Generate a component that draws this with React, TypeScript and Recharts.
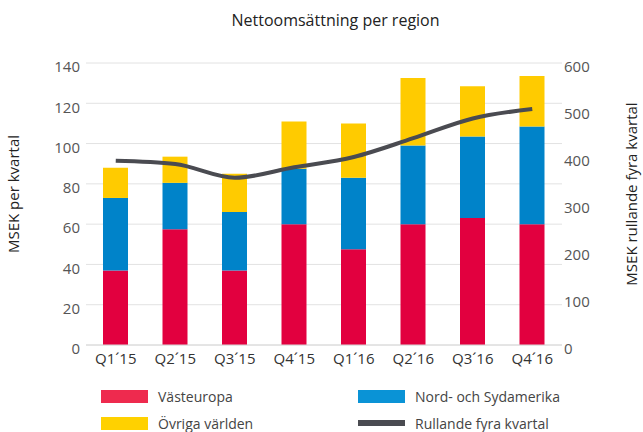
import React from "react";
import {
    ComposedChart,
    Bar,
    Line,
    XAxis,
    YAxis,
    CartesianGrid,
} from "recharts";

// kvartal och värden
const quarters = ["Q1´15", "Q2´15", "Q3´15", "Q4´15", "Q1´16", "Q2´16", "Q3´16", "Q4´16"];
const vasteuropa = [37, 57.5, 37, 60, 47.5, 60, 63, 60];
const amerika = [36, 23, 29, 27.5, 35.5, 39, 40.5, 48.5];
const ovriga = [15, 13, 19, 23.5, 27, 33.5, 25, 25];
const rullande = [392, 385, 356, 378, 400, 440, 482, 502];

const leftTicks = [0, 20, 40, 60, 80, 100, 120, 140];
const rightTicks = [0, 100, 200, 300, 400, 500, 600];

const data = quarters.map((q, i) => ({
    quarter: q,
    vasteuropa: vasteuropa[i],
    amerika: amerika[i],
    ovriga: ovriga[i],
    rullande: rullande[i],
}));

const legendItems = [
    { name: "Västeuropa", color: "#EE2A4E", line: false },
    { name: "Nord- och Sydamerika", color: "#0A93D6", line: false },
    { name: "Övriga världen", color: "#FFD100", line: false },
    { name: "Rullande fyra kvartal", color: "#4A4B51", line: true },
];

const FONT = "'Open Sans', sans-serif";

const AxisTitle = (props: any) => {
    const { viewBox, value, side } = props;
    const cx = side === "left" ? viewBox.x + 15 : viewBox.x + viewBox.width - 10;
    const cy = viewBox.y + viewBox.height / 2 - 10;
    return (
        <text
            x={cx}
            y={cy}
            transform={`rotate(-90 ${cx} ${cy})`}
            textAnchor="middle"
            dominantBaseline="middle"
            fill="#222"
            fontSize={15}
            fontFamily={FONT}
        >
            {value}
        </text>
    );
};

const App: React.FunctionComponent = () => {
    return (
        <div
            style={{
                position: "absolute",
                left: 0,
                top: 0,
                width: "643px",
                height: "432px",
                background: "#fff",
                fontFamily: FONT,
                overflow: "hidden",
            }}
        >
            <div
                style={{
                    position: "absolute",
                    top: "9px",
                    left: "14px",
                    width: "643px",
                    textAlign: "center",
                    fontSize: "16px",
                    lineHeight: "22px",
                    color: "#222",
                }}
            >
                Nettoomsättning per region
            </div>
            <ComposedChart
                width={643}
                height={432}
                data={data}
                margin={{ top: 63, right: 0, left: 0, bottom: 57 }}
                style={{ fontFamily: FONT }}
            >
                <CartesianGrid vertical={false} stroke="#e2e2e2" yAxisId="left" />
                <XAxis
                    dataKey="quarter"
                    height={30}
                    tickLine={false}
                    tickSize={0}
                    tickMargin={8}
                    axisLine={{ stroke: "#d8d8d8" }}
                    tick={{ fill: "#333", fontSize: 15 }}
                    interval={0}
                />
                <YAxis
                    yAxisId="left"
                    orientation="left"
                    width={86}
                    domain={[0, 140]}
                    ticks={leftTicks}
                    axisLine={false}
                    tickLine={false}
                    tickSize={0}
                    tickMargin={6}
                    tick={{ fill: "#555", fontSize: 15, dy: 4 }}
                    label={<AxisTitle value="MSEK per kvartal" side="left" />}
                />
                <YAxis
                    yAxisId="right"
                    orientation="right"
                    width={81}
                    domain={[0, 600]}
                    ticks={rightTicks}
                    axisLine={false}
                    tickLine={false}
                    tickSize={0}
                    tickMargin={2}
                    tick={{ fill: "#555", fontSize: 15, dy: 4 }}
                    label={<AxisTitle value="MSEK rullande fyra kvartal" side="right" />}
                />
                <Bar yAxisId="left" dataKey="vasteuropa" stackId="a" fill="#E2003F" barSize={25} isAnimationActive={false} />
                <Bar yAxisId="left" dataKey="amerika" stackId="a" fill="#0083C9" barSize={25} isAnimationActive={false} />
                <Bar yAxisId="left" dataKey="ovriga" stackId="a" fill="#FFCB00" barSize={25} isAnimationActive={false} />
                <Line
                    yAxisId="right"
                    dataKey="rullande"
                    type="monotone"
                    stroke="#4A4B51"
                    strokeWidth={4}
                    dot={false}
                    isAnimationActive={false}
                />
            </ComposedChart>
            <div
                style={{
                    position: "absolute",
                    left: "101px",
                    top: "386px",
                    display: "grid",
                    gridTemplateColumns: "257px 230px",
                    rowGap: "7px",
                    fontSize: "14px",
                    lineHeight: "19px",
                    color: "#444",
                }}
            >
                {legendItems.map((item) => (
                    <div
                        key={item.name}
                        style={{ display: "flex", alignItems: "center", height: "20px" }}
                    >
                        <span
                            style={{
                                display: "inline-block",
                                width: "47px",
                                height: item.line ? "6px" : "13px",
                                background: item.color,
                                marginRight: "10px",
                            }}
                        />
                        <span>{item.name}</span>
                    </div>
                ))}
            </div>
        </div>
    );
};

export default App;
